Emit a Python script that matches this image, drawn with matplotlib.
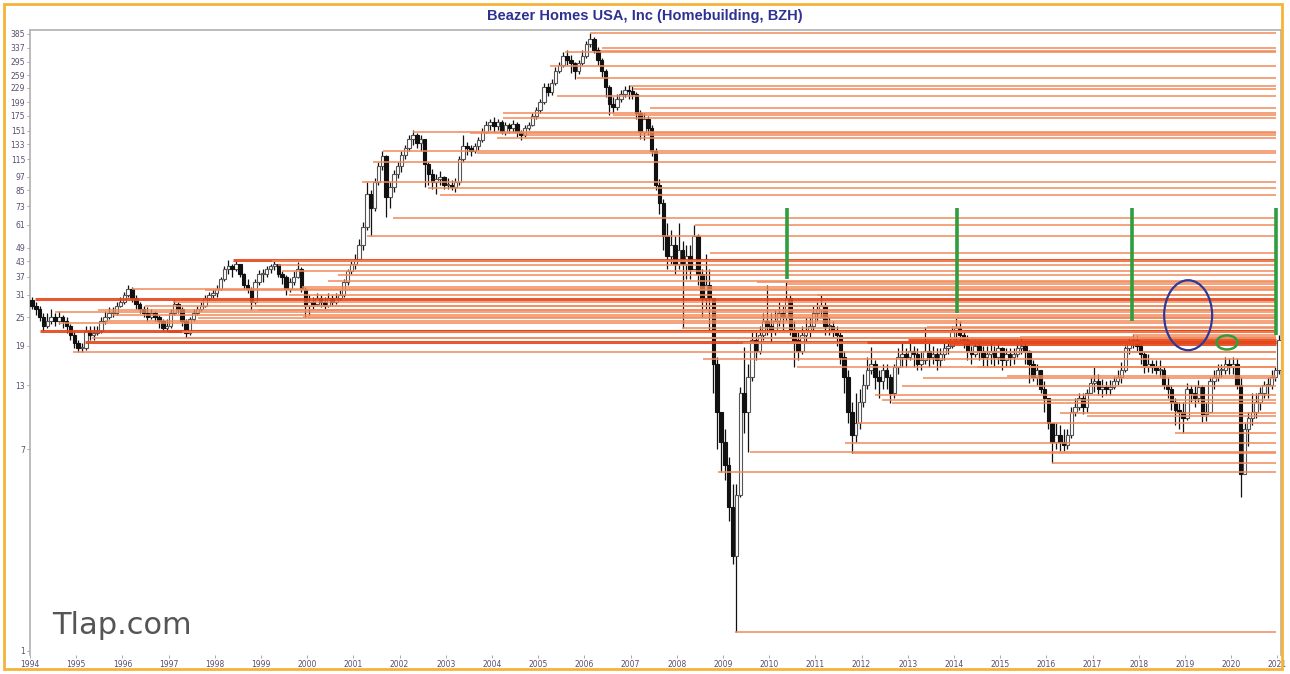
import numpy as np
import matplotlib.pyplot as plt
from matplotlib.patches import Ellipse, Rectangle
from matplotlib.transforms import ScaledTranslation

# monthly candles, Jan 1994 .. Jan 2021 (open = previous close)
first_open = 29.5
close = [
    28, 27, 25, 23, 24, 25, 24, 25, 24, 23, 21, 19.5,            # 1994
    18.5, 18.5, 22, 21, 21.5, 22, 24, 25, 26, 26, 28, 29,        # 1995
    31, 33, 30, 28.5, 27, 26, 25, 26, 25, 24, 22.5, 23,          # 1996
    26, 28.5, 27, 24, 21.5, 24.5, 26, 27, 28, 30, 31, 31.5,      # 1997
    33, 36, 40, 41, 40, 42, 38, 34, 33, 29, 35, 38,              # 1998
    38, 40, 41, 42, 38, 37, 33, 35, 37, 40, 33, 28,              # 1999
    29, 28.5, 30, 29, 28, 30, 29, 30, 31, 35, 39, 42,            # 2000
    44, 50, 60, 82, 72, 92, 108, 118, 80, 88, 100, 108,          # 2001
    120, 128, 140, 145, 135, 140, 110, 100, 92, 95, 97, 90,      # 2002
    90, 88, 92, 115, 130, 128, 125, 130, 138, 150, 160, 165,     # 2003
    158, 165, 150, 160, 155, 162, 150, 145, 155, 160, 175, 185,  # 2004
    200, 230, 220, 240, 270, 285, 310, 300, 290, 270, 290, 310,  # 2005
    350, 365, 330, 300, 270, 230, 195, 190, 205, 215, 225, 222,  # 2006
    215, 180, 150, 170, 155, 125, 90, 75, 55, 45, 50, 42,        # 2007
    48, 42, 45, 40, 55, 38, 30, 34, 30, 16, 10, 7.5,             # 2008
    6, 4, 2.5, 4.5, 12, 10, 14, 20, 18, 21, 24, 23,              # 2009
    22, 24, 26, 25, 30, 22, 20, 18, 21, 22, 23, 26,              # 2010
    27, 28, 23, 23, 22, 21, 17, 14, 10, 8, 9, 11,                # 2011
    13, 15, 16, 14, 13.5, 15, 14, 12, 15.5, 17, 17.5, 17,        # 2012
    18, 17.5, 16, 16.5, 18, 17, 17.5, 16.5, 17.5, 18.5, 19, 22,  # 2013
    22.5, 21, 20, 18, 17.5, 19, 18, 17, 17.5, 18, 17, 18.5,      # 2014
    16.5, 17.5, 17, 17.5, 18.5, 19, 18, 16, 14, 15, 12.5, 11.5,  # 2015
    9, 7.5, 8, 7.5, 7.3, 8, 10, 10.5, 11.5, 10.5, 12, 13.3,      # 2016
    13.5, 12.5, 12.8, 12.5, 12.8, 13.5, 14, 15, 18.5, 19.5, 20, 19,  # 2017
    17.5, 15.5, 16, 15.5, 15, 15, 13, 12.5, 11, 10.2, 10, 9.5,   # 2018
    12.5, 12, 11.5, 12.8, 9.8, 10, 13.5, 14, 15, 15, 16, 15.5,   # 2019
    16, 13, 5.5, 8.5, 9.5, 10, 11, 12, 13, 13, 14, 15,           # 2020
    20,                                                          # 2021
]
high = [
    30.5, 29, 28, 26, 26, 27, 26, 26.5, 25.5, 25, 23.5, 22,
    20, 19.5, 23, 23, 23, 23, 25, 26.5, 27.5, 27.5, 29, 30.5,
    32, 34, 33.5, 31, 29, 28, 27.5, 27, 26.5, 25.5, 24.5, 24.5,
    27, 29.5, 29, 27.5, 24.5, 25, 27, 28, 29, 31, 32, 33,
    34, 37, 41, 43.5, 42, 43, 42, 38.5, 36, 33.5, 36, 39.5,
    40, 41, 42, 43.5, 42, 39, 37.5, 36.5, 39, 42.5, 40.5, 33.5,
    31, 30.5, 31.5, 31, 30.5, 31.5, 31, 31.5, 32.5, 36, 40, 43.5,
    46, 53, 63, 92, 85, 96, 112, 125, 120, 92, 104, 112,
    125, 132, 145, 152, 148, 145, 140, 112, 105, 100, 103, 98,
    96, 94, 96, 118, 145, 136, 132, 135, 142, 155, 166, 170,
    172, 170, 168, 165, 163, 168, 164, 152, 160, 165, 180, 190,
    205, 240, 240, 250, 280, 295, 325, 330, 315, 295, 300, 330,
    360, 390, 375, 340, 305, 275, 235, 210, 215, 225, 232, 235,
    232, 220, 185, 180, 175, 160, 128, 95, 78, 62, 58, 55,
    62, 52, 50, 50, 61, 56, 40, 46, 40, 30, 17, 10,
    8.5, 6.5, 5, 5, 12.8, 18.8, 16, 21.6, 22, 23, 26, 34,
    26, 27, 29, 28, 35, 31, 24, 22, 23, 25, 25, 28,
    29, 31, 29, 25, 24, 23, 22, 18, 15, 11, 12, 12.5,
    14.5, 17, 18.8, 16.5, 15, 16, 16, 14.5, 16, 18.5, 19.5, 18.5,
    19.5, 19, 18.5, 18, 22.8, 19.5, 19, 18.5, 18.5, 19.5, 20, 23,
    24.8, 24, 22, 21, 19, 20, 20, 19, 19, 19.5, 19, 19.5,
    18.7, 18.5, 18.5, 18.5, 19.5, 20.7, 19.5, 18.2, 16.5, 16, 15, 13.5,
    11.5, 9, 9, 8.8, 8.5, 8.5, 10.5, 11.5, 12, 12, 12.5, 14,
    15.5, 14.5, 13.8, 13.5, 13.6, 14.2, 15, 16.2, 19, 20.6, 21.2, 21,
    19.5, 18, 17.5, 16.5, 16.5, 16.5, 15.5, 14, 13, 11.5, 11, 11,
    13.3, 13, 13, 13.6, 13, 11, 14, 15, 16, 16, 17, 16.8,
    17, 16.8, 14, 9, 10, 12, 12, 12.8, 13.5, 14, 15, 15.5,
    21,
]
low = [
    27, 25.5, 24, 22, 22.5, 23.5, 23, 23.5, 22.5, 21.5, 20, 18.5,
    17.8, 17.8, 18.3, 20, 20, 21, 21.5, 23.5, 24.5, 25, 25.5, 27.5,
    28.5, 30.5, 29, 27, 26, 25, 24, 24.5, 24, 22.5, 21.8, 22,
    22.5, 25.5, 26, 23, 20.5, 21, 24, 25.5, 26.5, 27.5, 29.5, 30,
    30.5, 32.5, 35.5, 38, 37, 39, 37, 33, 31.5, 26.8, 28.5, 34,
    35, 37, 38.5, 39.5, 37, 34.5, 31, 32, 34, 36.5, 32, 25,
    25.5, 27, 28, 27.5, 27, 27.5, 28, 28.5, 29.5, 30.5, 34, 38,
    40, 43, 48, 58, 55, 70, 90, 104, 66, 72, 84, 96,
    102, 115, 125, 132, 128, 125, 88, 90, 86, 82, 90, 86,
    86, 85, 84, 90, 112, 120, 118, 122, 126, 136, 148, 152,
    150, 152, 146, 145, 148, 150, 143, 138, 142, 152, 158, 170,
    180, 195, 212, 213, 235, 265, 280, 285, 265, 250, 262, 285,
    305, 340, 320, 285, 255, 210, 176, 180, 185, 200, 210, 205,
    205, 170, 140, 138, 145, 118, 85, 68, 48, 40, 42, 38,
    40, 22.5, 36, 36, 40, 34, 25, 27, 22, 12, 7, 5.6,
    5.2, 3.5, 2.3, 1.2, 4.4, 8.2, 6.8, 13.5, 16.5, 17.5, 20, 21,
    19.5, 21, 23, 22, 24, 21, 15.5, 16.5, 17.5, 19.5, 20.5, 22,
    24, 25, 21, 21, 20.5, 19, 16, 12, 9, 6.75, 7.5, 8.5,
    10.5, 12.5, 14.5, 12.5, 11.5, 12.5, 12.5, 10.9, 11.5, 14.5, 15.5, 15.5,
    16.5, 15.5, 15, 15, 16, 15.5, 16, 15, 15.5, 16.5, 17.5, 18.5,
    20, 19.5, 18.5, 16.5, 16, 17, 16.5, 15.5, 15.5, 16, 15.5, 16,
    15, 15.5, 15.5, 16, 17, 17.5, 16, 13.3, 13.5, 13, 12, 10,
    8.5, 6.1, 7, 6.9, 6.9, 7, 7.8, 9.6, 10.2, 9.8, 10, 12,
    12.2, 11.8, 11.6, 11.8, 11.8, 12.5, 13, 13.3, 14.8, 17.5, 18.5, 18,
    16, 14.6, 14.8, 14.6, 14.5, 14, 12.5, 11.5, 10.2, 8.8, 8.5, 8.2,
    9.3, 11, 10.5, 11, 9.1, 9.2, 10, 12.5, 13.5, 14, 14.5, 14.5,
    14.5, 12.5, 4.4, 5.5, 7.2, 8.8, 9.5, 10.2, 11.5, 11.5, 12.5, 13.5,
    14.5,
]

# horizontal levels: where each starts (year) and its price
line_start = [1994.11, 1994.22, 1994.54, 1994.62, 1994.93, 1995.19, 1995.34, 1995.47,
              1995.62, 1995.80, 1996.21, 1996.50, 1996.99, 1997.10, 1997.30, 1997.42,
              1997.64, 1997.79, 1998.39, 1998.87, 1998.94, 1999.24, 1999.37, 1999.45,
              1999.60, 1999.89, 1999.91, 2000.45, 2000.67, 2001.19, 2001.29, 2001.42,
              2001.64, 2001.86, 2002.29, 2002.61, 2002.87, 2003.52, 2003.68, 2004.11,
              2004.24, 2004.24, 2004.67, 2005.26, 2005.41, 2005.58, 2005.84, 2006.12,
              2006.34, 2006.38, 2006.62, 2006.99, 2007.05, 2007.42, 2008.11, 2008.39,
              2008.57, 2008.72, 2008.89, 2009.26, 2009.43, 2009.58, 2009.74, 2010.39,
              2010.60, 2011.04, 2011.64, 2011.81, 2011.90, 2012.12, 2012.30, 2012.44,
              2012.66, 2012.87, 2013.33, 2013.42, 2014.06, 2014.28, 2014.50, 2015.15,
              2015.43, 2016.12, 2016.29, 2016.88, 2017.87, 2018.78, 2013.00, 2013.90]
line_level = [29.8, 22.0, 26.3, 23.7, 17.8, 19.6, 20.5, 26.8,
              24.2, 25.6, 33.0, 27.8, 22.0, 29.0, 21.7, 20.5,
              24.8, 32.5, 43.5, 28.0, 26.8, 43.0, 41.5, 39.0,
              31.0, 33.5, 25.0, 35.5, 37.5, 92, 55, 112,
              125, 65, 150, 87, 81, 148, 122, 141,
              179, 171, 145, 283, 212, 322, 251, 390,
              326, 337, 176, 233, 227, 188, 22.5, 61,
              16.7, 46.5, 5.6, 1.2, 19.5, 6.8, 35.0, 34.5,
              15.5, 31.0, 7.4, 6.75, 9.0, 19.6, 11.8, 11.3,
              10.9, 12.9, 13.9, 22.8, 24.8, 17.9, 15.5, 14.2,
              20.7, 6.1, 9.9, 9.6, 21.0, 8.2, 20.0, 19.3]
strong_levels = [43.5, 29.8, 22.0, 19.6, 20.0, 19.3]

# annotation marks
green_x = [2010.39, 2014.06, 2017.85, 2020.97]
green_low = [36, 26, 24, 21]
green_high = 72

y_ticks = [1, 7, 13, 19, 25, 31, 37, 43, 49, 61, 73, 85, 97, 115, 133,
           151, 175, 199, 229, 259, 295, 337, 385]
years = list(range(1994, 2022))

W, H = 1290, 674
fig = plt.figure(figsize=(W / 100, H / 100), dpi=100)
ax = fig.add_axes([30 / W, 1 - 655 / H, 1251 / W, 625 / H])
ax.set_yscale('log')

c = np.array(close, dtype=float)
o = np.array([first_open] + close[:-1], dtype=float)
h = np.array(high, dtype=float)
l = np.array(low, dtype=float)
t = 1994 + (np.arange(len(c)) + 0.5) / 12
up = c >= o
b_lo = np.minimum(o, c)
b_hi = np.maximum(o, c)
b_h = np.maximum(b_hi - b_lo, b_lo * 0.01)

ax.vlines(t, np.minimum(l, b_lo), np.maximum(h, b_hi), color='#111111', lw=0.9, zorder=2)
ax.bar(t[up], b_h[up], bottom=b_lo[up], width=0.075, color='white',
       edgecolor='#555555', lw=0.8, zorder=3)
ax.bar(t[~up], b_h[~up], bottom=b_lo[~up], width=0.075, color='#111111',
       edgecolor='#111111', lw=0.8, zorder=3)

end = t[-1] - 0.06
for s, v in zip(line_start, line_level):
    if v in strong_levels:
        ax.hlines(v, s, end, color='#e4461a', lw=2.2, alpha=0.9, zorder=4)
    else:
        ax.hlines(v, s, end, color='#f28a5a', lw=1.3, alpha=0.85, zorder=4)

ax.vlines(green_x, green_low, green_high, color='#2e9e3e', lw=2.6, zorder=5)

# circled areas
blue = ScaledTranslation(2019.07, 25.5, ax.transData)
ax.add_patch(Ellipse((0, 0), 0.48, 0.70, transform=fig.dpi_scale_trans + blue,
                     fill=False, edgecolor='#2b3a9a', lw=1.6, zorder=6))
grn = ScaledTranslation(2019.91, 19.6, ax.transData)
ax.add_patch(Ellipse((0, 0), 0.21, 0.14, transform=fig.dpi_scale_trans + grn,
                     fill=False, edgecolor='#2e9e3e', lw=1.8, zorder=6))

ax.set_xlim(1994.0, 2021.08)
ax.set_ylim(0.96, 400)
ax.set_yticks(y_ticks)
ax.set_yticklabels([str(v) for v in y_ticks])
ax.minorticks_off()
ax.set_xticks(years)
ax.set_xticklabels([str(y) for y in years])
ax.tick_params(axis='both', labelsize=5.5, labelcolor='#5c4c6e', color='#999999',
               length=2, width=0.6, pad=1.5)

ax.spines['bottom'].set_visible(False)
for side in ['left', 'top', 'right']:
    ax.spines[side].set_color('#b0b0b0')
    ax.spines[side].set_linewidth(1.2)

fig.text(0.5, 1 - 16 / H, 'Beazer Homes USA, Inc (Homebuilding, BZH)', ha='center',
         va='center', fontsize=10.5, fontweight='bold', color='#2e3192',
         family='Liberation Sans')
fig.text(52 / W, 1 - 626 / H, 'Tlap.com', fontsize=22, color='#555555', va='center')

fig.patches.append(Rectangle((4 / W, 5 / H), 1278 / W, 665 / H, transform=fig.transFigure,
                             fill=False, edgecolor='#f6b33a', lw=2))

fig.savefig('out.png', dpi=100)
